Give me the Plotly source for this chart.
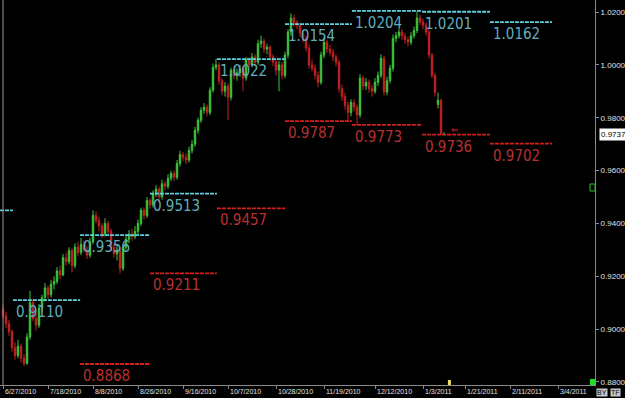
import plotly.graph_objects as go

# ---------------- data ----------------
opens = [0.9075,0.9050,0.9020,0.8990,0.8930,0.8900,0.8935,0.8890,0.8870,0.8970,
         0.9100,0.9040,0.9015,0.9080,0.9120,0.9156,0.9130,0.9170,0.9180,0.9220,
         0.9205,0.9270,0.9255,0.9297,0.9240,0.9310,0.9290,0.9320,0.9300,0.9280,
         0.9330,0.9430,0.9410,0.9390,0.9360,0.9400,0.9370,0.9310,0.9285,0.9300,
         0.9230,0.9310,0.9340,0.9360,0.9350,0.9370,0.9400,0.9450,0.9430,0.9487,
         0.9470,0.9510,0.9530,0.9500,0.9550,0.9540,0.9570,0.9589,0.9575,0.9627,
         0.9660,0.9650,0.9640,0.9676,0.9700,0.9752,0.9790,0.9828,0.9840,0.9820,
         0.9904,0.9991,1.0000,0.9940,0.9900,0.9920,0.9877,0.9980,0.9960,0.9970,
         0.9985,0.9950,1.0018,1.0000,1.0030,1.0010,1.0080,1.0090,1.0060,1.0067,
         1.0030,1.0010,0.9980,1.0000,0.9960,1.0037,1.0124,1.0177,1.0160,1.0150,
         1.0120,1.0100,1.0063,0.9999,0.9987,0.9960,0.9934,1.0037,1.0086,1.0060,
         1.0048,1.0030,1.0010,0.9910,0.9880,0.9847,0.9820,0.9858,0.9840,0.9810,
         0.9950,0.9920,0.9934,0.9910,0.9900,0.9934,0.9960,1.0025,0.9897,0.9940,
         0.9987,1.0100,1.0110,1.0124,1.0110,1.0095,1.0086,1.0110,1.0130,1.0177,
         1.0162,1.0150,1.0124,1.0037,0.9960,0.9850,0.9866,0.9736]
highs = [0.9095,0.9065,0.9035,0.9000,0.8950,0.8960,0.8945,0.8905,0.8985,0.9145,
         0.9115,0.9060,0.9095,0.9130,0.9175,0.9165,0.9185,0.9200,0.9235,0.9240,
         0.9285,0.9290,0.9310,0.9305,0.9325,0.9330,0.9345,0.9335,0.9315,0.9345,
         0.9450,0.9445,0.9425,0.9400,0.9420,0.9410,0.9380,0.9325,0.9320,0.9310,
         0.9320,0.9355,0.9375,0.9380,0.9390,0.9415,0.9460,0.9460,0.9500,0.9495,
         0.9525,0.9545,0.9540,0.9565,0.9560,0.9585,0.9600,0.9600,0.9640,0.9675,
         0.9670,0.9665,0.9690,0.9715,0.9765,0.9800,0.9840,0.9855,0.9850,0.9915,
         1.0005,1.0022,1.0010,0.9950,0.9935,0.9930,0.9990,0.9995,0.9985,1.0000,
         0.9995,1.0030,1.0028,1.0045,1.0040,1.0095,1.0110,1.0100,1.0080,1.0075,
         1.0040,1.0020,1.0015,1.0010,1.0050,1.0135,1.0195,1.0190,1.0170,1.0160,
         1.0130,1.0110,1.0075,1.0020,1.0000,0.9975,1.0050,1.0105,1.0095,1.0075,
         1.0060,1.0040,1.0020,0.9925,0.9895,0.9860,0.9870,0.9870,0.9850,0.9965,
         0.9960,0.9950,0.9945,0.9925,0.9950,0.9975,1.0040,1.0035,0.9955,1.0000,
         1.0115,1.0125,1.0140,1.0135,1.0120,1.0105,1.0125,1.0145,1.0201,1.0190,
         1.0175,1.0160,1.0135,1.0045,0.9970,0.9895,0.9872,0.9745]
lows = [0.9040,0.9005,0.8975,0.8915,0.8885,0.8890,0.8875,0.8860,0.8865,0.8960,
        0.9030,0.8995,0.9005,0.9065,0.9105,0.9115,0.9120,0.9150,0.9170,0.9190,
        0.9200,0.9240,0.9245,0.9215,0.9230,0.9275,0.9280,0.9290,0.9265,0.9270,
        0.9320,0.9400,0.9370,0.9345,0.9350,0.9355,0.9295,0.9270,0.9260,0.9210,
        0.9220,0.9300,0.9325,0.9335,0.9340,0.9360,0.9390,0.9415,0.9420,0.9455,
        0.9460,0.9500,0.9480,0.9490,0.9525,0.9530,0.9560,0.9560,0.9565,0.9615,
        0.9635,0.9625,0.9630,0.9665,0.9690,0.9740,0.9780,0.9815,0.9805,0.9810,
        0.9895,0.9980,0.9925,0.9885,0.9880,0.9790,0.9865,0.9945,0.9940,0.9955,
        0.9900,0.9940,0.9985,0.9990,0.9995,1.0000,1.0065,1.0045,1.0040,1.0015,
        0.9995,0.9960,0.9900,0.9945,0.9950,1.0025,1.0110,1.0145,1.0135,1.0105,
        1.0085,1.0050,0.9985,0.9975,0.9945,0.9915,0.9925,1.0025,1.0045,1.0035,
        1.0015,0.9995,0.9895,0.9865,0.9830,0.9787,0.9805,0.9825,0.9773,0.9800,
        0.9905,0.9905,0.9895,0.9880,0.9890,0.9920,0.9950,0.9885,0.9885,0.9930,
        0.9975,1.0085,1.0100,1.0095,1.0080,1.0070,1.0075,1.0100,1.0120,1.0150,
        1.0135,1.0110,1.0025,0.9950,0.9880,0.9835,0.9736,0.9736]
closes = [0.9050,0.9020,0.8990,0.8930,0.8900,0.8935,0.8890,0.8870,0.8970,0.9100,
          0.9040,0.9015,0.9080,0.9120,0.9156,0.9130,0.9170,0.9180,0.9220,0.9205,
          0.9270,0.9255,0.9297,0.9240,0.9310,0.9290,0.9320,0.9300,0.9280,0.9330,
          0.9430,0.9410,0.9390,0.9360,0.9400,0.9370,0.9310,0.9285,0.9300,0.9230,
          0.9310,0.9340,0.9360,0.9350,0.9370,0.9400,0.9450,0.9430,0.9487,0.9470,
          0.9510,0.9530,0.9500,0.9550,0.9540,0.9570,0.9589,0.9575,0.9627,0.9660,
          0.9650,0.9640,0.9676,0.9700,0.9752,0.9790,0.9828,0.9840,0.9820,0.9904,
          0.9991,1.0000,0.9940,0.9900,0.9920,0.9877,0.9980,0.9960,0.9970,0.9985,
          0.9950,1.0018,1.0000,1.0030,1.0010,1.0080,1.0090,1.0060,1.0067,1.0030,
          1.0010,0.9980,1.0000,0.9960,1.0037,1.0124,1.0177,1.0160,1.0150,1.0120,
          1.0100,1.0063,0.9999,0.9987,0.9960,0.9934,1.0037,1.0086,1.0060,1.0048,
          1.0030,1.0010,0.9910,0.9880,0.9847,0.9820,0.9858,0.9840,0.9810,0.9950,
          0.9920,0.9934,0.9910,0.9900,0.9934,0.9960,1.0025,0.9897,0.9940,0.9987,
          1.0100,1.0110,1.0124,1.0110,1.0095,1.0086,1.0110,1.0130,1.0177,1.0162,
          1.0150,1.0124,1.0037,0.9960,0.9896,0.9866,0.9740,0.9737]
bars = list(range(len(closes)))

tick_idx = [0, 15, 30, 45, 60, 75, 91, 107, 124, 140, 154, 169, 185]
tick_labels = ["6/27/2010", "7/18/2010", "8/8/2010", "8/26/2010", "9/16/2010",
               "10/7/2010", "10/28/2010", "11/19/2010", "12/12/2010", "1/3/2011",
               "1/21/2011", "2/11/2011", "3/4/2011"]
y_ticks = [0.88, 0.90, 0.92, 0.94, 0.96, 0.98, 1.00, 1.02]

# monthly period boundaries (bar index)
period_bounds = [-1, 3.3, 25.7, 49, 71.3, 94, 116.3, 139.7, 162.3, 183]
res_periods = [0, 1, 2, 3, 4, 5, 6, 7, 8]
res_levels = [0.9449, 0.9110, 0.9356, 0.9513, 1.0022, 1.0154, 1.0204, 1.0201, 1.0162]
res_labels = ["", "0.9110", "0.9356", "0.9513", "1.0022", "1.0154", "1.0204", "1.0201", "1.0162"]
sup_periods = [2, 3, 4, 5, 6, 7, 8]
sup_levels = [0.8868, 0.9211, 0.9457, 0.9787, 0.9773, 0.9736, 0.9702]
sup_labels = ["0.8868", "0.9211", "0.9457", "0.9787", "0.9773", "0.9736", "0.9702"]
last_price = 0.9737

# ---------------- styles ----------------
UP = "#3dc63d"
DN = "#c42222"
RES_LINE = "#5fd0de"
RES_TXT = "#62aebd"
SUP_LINE = "#d42020"
SUP_TXT = "#b83030"
AX = "#8a8a8a"
TXT = "#e0e0e0"
LBL_FONT = "Liberation Sans Narrow, DejaVu Sans Condensed, DejaVu Sans Mono"

fig = go.Figure()
fig.add_trace(go.Candlestick(
    x=bars, open=opens, high=highs, low=lows, close=closes,
    increasing=dict(line=dict(color=UP, width=1), fillcolor=UP),
    decreasing=dict(line=dict(color=DN, width=1), fillcolor=DN),
    whiskerwidth=0, hoverinfo="skip"))

def level_trace(periods, levels, color):
    xs, ys = [], []
    for p, lv in zip(periods, levels):
        xs += [period_bounds[p], period_bounds[p + 1], None]
        ys += [lv, lv, None]
    return go.Scatter(x=xs, y=ys, mode="lines",
                      line=dict(color=color, width=1.8, dash="4px,1px"),
                      hoverinfo="skip")

fig.add_trace(level_trace(res_periods, res_levels, RES_LINE))
fig.add_trace(level_trace(sup_periods, sup_levels, SUP_LINE))

ann = []
for p, lv, t in zip(res_periods, res_levels, res_labels):
    if t:
        ann.append(dict(x=period_bounds[p], y=lv, xref="x", yref="y", text=t,
                        showarrow=False, xanchor="left", yanchor="top",
                        xshift=1, yshift=-1,
                        font=dict(family=LBL_FONT, size=15, color=RES_TXT)))
for p, lv, t in zip(sup_periods, sup_levels, sup_labels):
    ann.append(dict(x=period_bounds[p], y=lv, xref="x", yref="y", text=t,
                    showarrow=False, xanchor="left", yanchor="top",
                    xshift=1, yshift=-1,
                    font=dict(family=LBL_FONT, size=15, color=SUP_TXT)))

for xi, t in zip(tick_idx, tick_labels):
    ann.append(dict(x=xi, y=0, xref="x", yref="paper", text=t, showarrow=False,
                    xanchor="left", yanchor="top", xshift=0, yshift=-1,
                    font=dict(family="Liberation Sans, Arial", size=7, color=TXT)))

# last price box on the right axis
ann.append(dict(x=1, y=last_price, xref="paper", yref="y", text=str(last_price),
                showarrow=False, xanchor="left", yanchor="middle", xshift=4,
                bgcolor="#ffffff", borderpad=1,
                font=dict(family="Liberation Sans, Arial", size=8, color="#000000")))
# arrow pointing at last low
ann.append(dict(x=len(closes) + 0.5, y=sup_levels[-2], xref="x", yref="y", text="⇐",
                showarrow=False, xanchor="left", yanchor="bottom", yshift=-2,
                font=dict(family="DejaVu Sans", size=9, color=SUP_LINE)))
# BY / TF boxes
for i, t in enumerate(["BY", "TF"]):
    ann.append(dict(x=1, y=0, xref="paper", yref="paper", text=t, showarrow=False,
                    xanchor="left", yanchor="top", xshift=1 + 14 * i, yshift=-3,
                    bgcolor="#c8c8c8", borderpad=0,
                    font=dict(family="Liberation Sans, Arial", size=7, color="#000000")))

shapes = [
    dict(type="line", xref="x", yref="paper", x0=bars[0], x1=bars[0], y0=0, y1=1,
         line=dict(color="#9a9a9a", width=1)),
    dict(type="rect", xref="paper", yref="paper", x0=590/595, x1=1, y0=0, y1=6/385,
         fillcolor="#1fe01f", line=dict(width=0)),
    dict(type="rect", xref="paper", yref="paper", x0=590/595, x1=1, y0=194/385, y1=201/385,
         fillcolor="#000000", line=dict(color="#2fbf2f", width=1)),
    dict(type="rect", xref="x", yref="paper", x0=len(closes) + 0.3, x1=len(closes) + 1.3,
         y0=0, y1=5/385, fillcolor="#f0e060", line=dict(width=0)),
]

fig.update_layout(
    width=625, height=398,
    margin=dict(l=0, r=30, t=0, b=13),
    paper_bgcolor="#000000", plot_bgcolor="#000000",
    showlegend=False,
    annotations=ann, shapes=shapes,
    xaxis=dict(range=[-1, 197.33], showgrid=False, zeroline=False,
               rangeslider=dict(visible=False),
               tickvals=tick_idx, ticktext=[""] * len(tick_idx),
               showticklabels=False, ticks="outside", ticklen=3, tickcolor=AX,
               showline=True, linecolor=AX, linewidth=1, fixedrange=True),
    yaxis=dict(range=[0.87886, 1.02454], side="right", showgrid=False, zeroline=False,
               tickvals=y_ticks, tickformat=".4f", ticks="outside", ticklen=3,
               tickcolor=AX, showline=True, linecolor=AX, linewidth=1,
               tickfont=dict(family="Liberation Sans, Arial", size=8, color=TXT),
               fixedrange=True),
)

fig.write_html("out.html")
